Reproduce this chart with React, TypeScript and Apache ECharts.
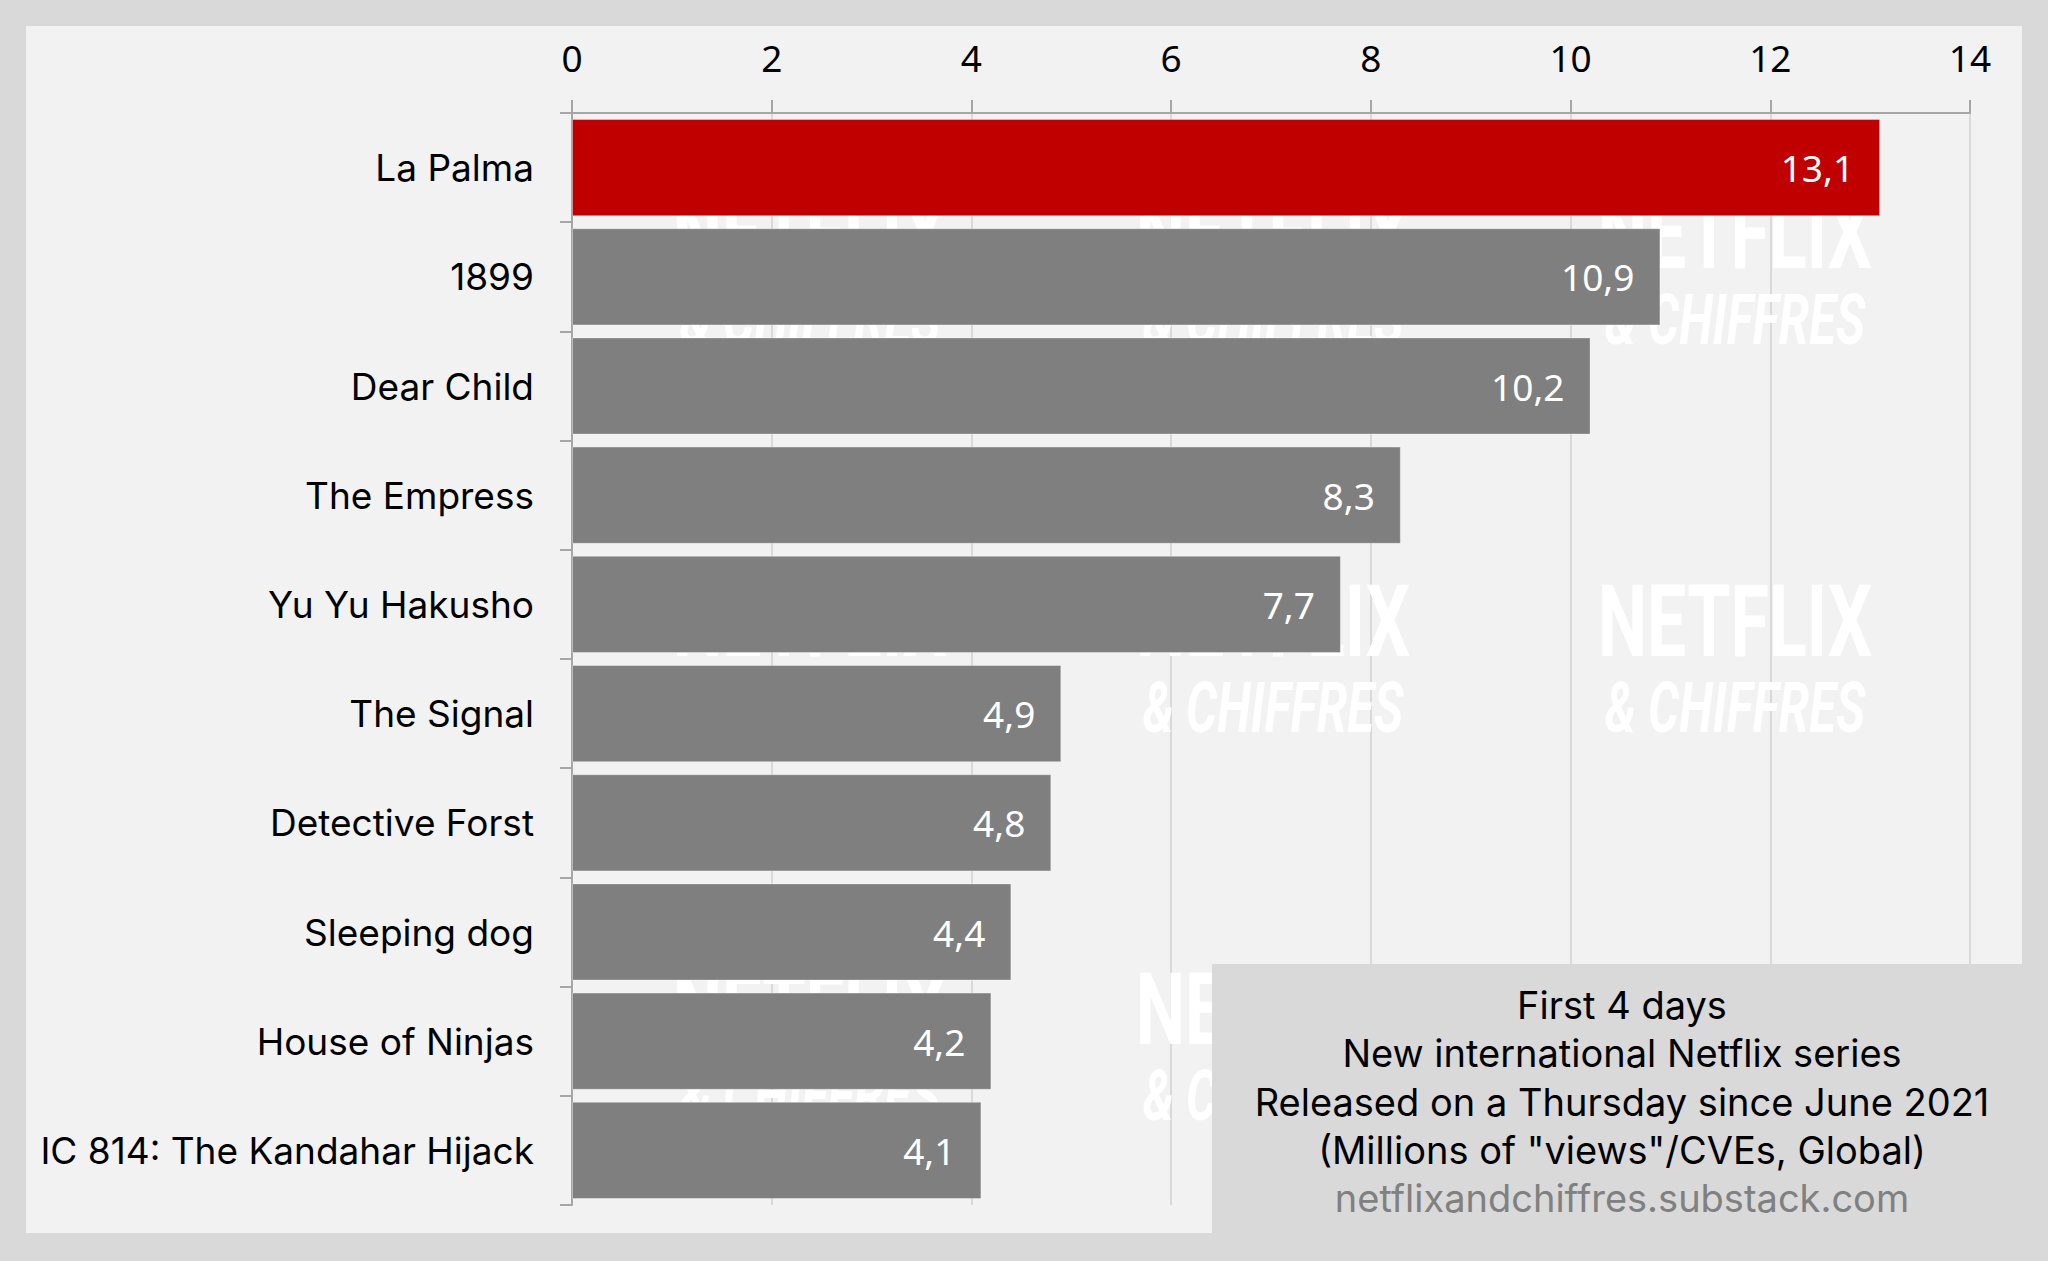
import React, { useEffect, useRef } from "react";
import * as echarts from "echarts";

const categories = [
  "La Palma",
  "1899",
  "Dear Child",
  "The Empress",
  "Yu Yu Hakusho",
  "The Signal",
  "Detective Forst",
  "Sleeping dog",
  "House of Ninjas",
  "IC 814: The Kandahar Hijack",
];
const values = [13.1, 10.9, 10.2, 8.3, 7.7, 4.9, 4.8, 4.4, 4.2, 4.1];
const highlightIndex = 0;
const xTicks = { min: 0, max: 14, interval: 2 };
const infoLines = [
  "First 4 days",
  "New international Netflix series",
  "Released on a Thursday since June 2021",
  '(Millions of "views"/CVEs, Global)',
];
const sourceLine = "netflixandchiffres.substack.com";

const FONT = "Inter";
const NUMFONT = "Noto Sans";

export default function App() {
  const ref = useRef<HTMLDivElement>(null);
  useEffect(() => {
    if (!ref.current) return;
    const chart = echarts.init(ref.current, undefined, { renderer: "svg" });

    const wmCols = [810, 1273, 1735];
    const wmRows = [234, 622, 1010];
    const watermark: any[] = [];
    wmRows.forEach((ry) => {
      wmCols.forEach((cx) => {
        watermark.push({
          type: "text",
          x: cx,
          y: ry,
          scaleX: 0.7,
          z: 1,
          silent: true,
          style: {
            x: 0,
            y: 0,
            text: "NETFLIX",
            fill: "#ffffff",
            font: "bold 100px Roboto",
            textAlign: "center",
            textVerticalAlign: "middle",
          },
        });
        watermark.push({
          type: "text",
          x: cx,
          y: ry + 86,
          scaleX: 0.7,
          z: 1,
          silent: true,
          style: {
            x: 0,
            y: 0,
            text: "& CHIFFRES",
            fill: "#ffffff",
            font: "italic bold 70px Roboto",
            textAlign: "center",
            textVerticalAlign: "middle",
          },
        });
      });
    });

    const infoY = [1005, 1053, 1102, 1150];
    const infoTexts = infoLines.map((t, i) => ({
      type: "text",
      x: 1622,
      y: infoY[i],
      z: 11,
      style: {
        text: t,
        fill: "#000000",
        font: `38px "${FONT}"`,
        textAlign: "center",
        textVerticalAlign: "middle",
      },
    }));

    chart.setOption({
      animation: false,
      backgroundColor: "#d9d9d9",
      graphic: [
        {
          type: "rect",
          z: -10,
          silent: true,
          shape: { x: 26, y: 26, width: 1996, height: 1207 },
          style: { fill: "#f2f2f2" },
        },
        ...watermark,
        {
          type: "rect",
          z: 10,
          silent: true,
          shape: { x: 1212, y: 964, width: 836, height: 297 },
          style: { fill: "#d9d9d9" },
        },
        ...infoTexts,
        {
          type: "text",
          x: 1622,
          y: 1198,
          z: 11,
          style: {
            text: sourceLine,
            fill: "#808080",
            font: `38px "${FONT}"`,
            textAlign: "center",
            textVerticalAlign: "middle",
          },
        },
      ],
      grid: { left: 572, right: 78, top: 113, bottom: 56, containLabel: false },
      xAxis: {
        type: "value",
        position: "top",
        min: xTicks.min,
        max: xTicks.max,
        interval: xTicks.interval,
        axisLine: { show: true, lineStyle: { color: "#a6a6a6", width: 2 } },
        axisTick: { show: true, length: 13, lineStyle: { color: "#a6a6a6", width: 2 } },
        axisLabel: { fontSize: 37, color: "#000", fontFamily: NUMFONT, margin: 37 },
        splitLine: { show: true, lineStyle: { color: "#d9d9d9", width: 2 } },
      },
      yAxis: {
        type: "category",
        inverse: true,
        data: categories,
        axisLine: { show: true, lineStyle: { color: "#a6a6a6", width: 2 } },
        axisTick: { show: true, length: 12, lineStyle: { color: "#a6a6a6", width: 2 } },
        axisLabel: { fontSize: 37, color: "#000", fontFamily: FONT, margin: 38 },
        splitLine: { show: false },
      },
      series: [
        {
          type: "bar",
          z: 2,
          barCategoryGap: "11%",
          data: values.map((v, i) => ({
            value: v,
            itemStyle: { color: i === highlightIndex ? "#c00000" : "#7f7f7f" },
          })),
          itemStyle: { borderColor: "rgba(255,255,255,0.35)", borderWidth: 1 },
          label: {
            show: true,
            position: "insideRight",
            distance: 26,
            color: "#ffffff",
            fontSize: 37,
            fontFamily: NUMFONT,
            formatter: (p: any) => String(p.value).replace(".", ","),
          },
        },
      ],
    });
    return () => chart.dispose();
  }, []);
  return (
    <div
      ref={ref}
      style={{ position: "absolute", left: 0, top: 0, width: 2048, height: 1261 }}
    />
  );
}
